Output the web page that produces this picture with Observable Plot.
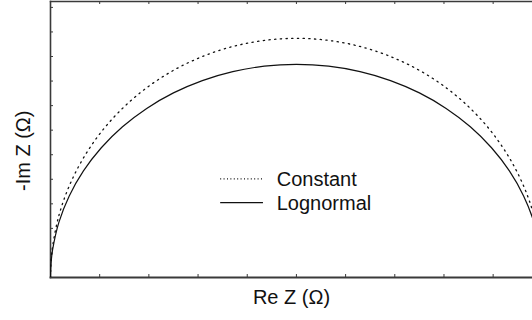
<!DOCTYPE html>
<html>
<head>
<meta charset="utf-8">
<script src="https://cdn.jsdelivr.net/npm/d3@7"></script>
<script src="https://cdn.jsdelivr.net/npm/@observablehq/plot@0.6"></script>
<style>
  html, body { margin: 0; padding: 0; background: #fff; }
  #chart svg { display: block; }
</style>
</head>
<body>
<div id="chart"></div>
<script>
// Nyquist arcs: real part vs. negative imaginary part of the impedance
const reZ = [0, 0.005, 0.019, 0.043, 0.17, 0.381, 0.67, 1.033, 1.464, 1.956, 2.5, 3.087, 3.706, 4.347, 5,
             5.653, 6.294, 6.913, 7.5, 8.044, 8.536, 8.967, 9.33, 9.619, 9.83, 9.957, 10];
const imConstant = [0, 0.212, 0.424, 0.636, 1.26, 1.864, 2.435, 2.965, 3.444, 3.864, 4.218, 4.499, 4.704, 4.828, 4.87,
                    4.828, 4.704, 4.499, 4.218, 3.864, 3.444, 2.965, 2.435, 1.864, 1.26, 0.636, 0];
const imLognormal = [0, 0.189, 0.378, 0.567, 1.123, 1.661, 2.17, 2.642, 3.069, 3.443, 3.759, 4.01, 4.192, 4.303, 4.34,
                     4.303, 4.192, 4.01, 3.759, 3.443, 3.069, 2.642, 2.17, 1.661, 1.123, 0.567, 0];
const seriesNames = ["Constant", "Lognormal"];
const xTicks = [1, 2, 3, 4, 5, 6, 7, 8, 9];
const yTicks = [0.5, 1, 1.5, 2, 2.5, 3, 3.5, 4, 4.5, 5, 5.5];
const xLabel = "Re Z (Ω)";
const yLabel = "-Im Z (Ω)";

const W = 532, H = 320;
const M = {top: 1, right: 0, bottom: 43, left: 50};
const innerW = W - M.left - M.right, innerH = H - M.top - M.bottom;
const font = "Liberation Sans, Arial, sans-serif";
const ink = "#111";
const axisInk = "#3a3a3a";
const labelSize = 20;

const constantPts = reZ.map((x, i) => ({x, y: imConstant[i]}));
const lognormalPts = reZ.map((x, i) => ({x, y: imLognormal[i]}));

// legend layout (data units)
const legendRows = [2.01, 1.525];
const legendX1 = 3.46, legendX2 = 4.33, legendTextX = 4.6;
// y-axis title position (data units, left of the frame)
const yTitleAt = {x: -0.55, y: 2.58};

const chart = Plot.plot({
  width: W, height: H,
  marginTop: M.top, marginRight: M.right, marginBottom: M.bottom, marginLeft: M.left,
  style: {fontFamily: font, background: "#fff"},
  x: {domain: [0, 9.8], axis: null},
  y: {domain: [0, 5.62], axis: null},
  marks: [
    // frame: left, top, bottom
    Plot.frame({anchor: "left", stroke: axisInk, strokeWidth: 1.6}),
    Plot.frame({anchor: "top", stroke: axisInk, strokeWidth: 1.4}),
    Plot.frame({anchor: "bottom", stroke: axisInk, strokeWidth: 1.8}),
    // inward ticks
    Plot.tickX(xTicks, {x: d => d, insetTop: innerH - 3, stroke: axisInk, strokeWidth: 1}),
    Plot.tickX(xTicks, {x: d => d, insetBottom: innerH - 3, stroke: axisInk, strokeWidth: 1}),
    Plot.tickY(yTicks, {y: d => d, insetRight: innerW - 3, stroke: axisInk, strokeWidth: 1}),
    // arcs
    Plot.line(constantPts, {x: "x", y: "y", curve: "catmull-rom", stroke: ink, strokeWidth: 1.3,
      strokeDasharray: "1.3 4.4", clip: true}),
    Plot.line(lognormalPts, {x: "x", y: "y", curve: "catmull-rom", stroke: ink, strokeWidth: 1.2, clip: true}),
    // legend
    Plot.ruleY([legendRows[0]], {y: d => d, x1: legendX1, x2: legendX2, stroke: ink, strokeWidth: 1.2,
      strokeDasharray: "1 2.4"}),
    Plot.ruleY([legendRows[1]], {y: d => d, x1: legendX1, x2: legendX2, stroke: ink, strokeWidth: 1.2}),
    Plot.text(seriesNames, {x: legendTextX, y: (d, i) => legendRows[i], text: d => d, textAnchor: "start",
      fontSize: labelSize, fill: ink, dy: 1}),
    // axis titles
    Plot.text([xLabel], {frameAnchor: "bottom", text: d => d, dy: 26, fontSize: labelSize, fill: ink}),
    Plot.text([yLabel], {x: yTitleAt.x, y: yTitleAt.y, text: d => d, rotate: -90, fontSize: labelSize, fill: ink})
  ]
});
document.getElementById("chart").append(chart);
</script>
</body>
</html>
